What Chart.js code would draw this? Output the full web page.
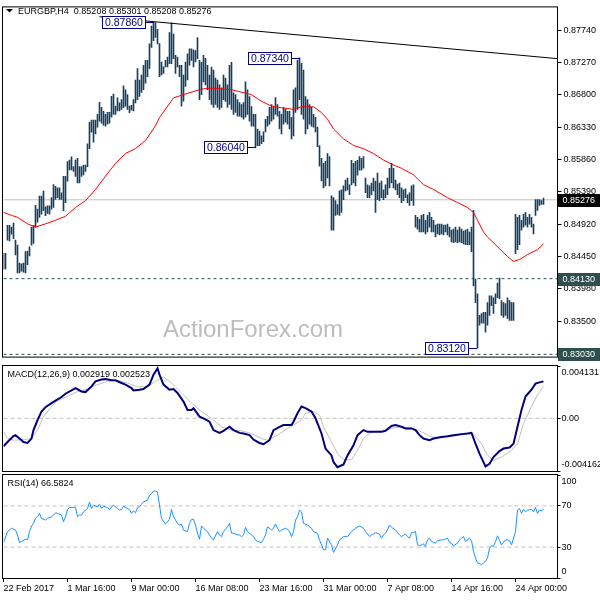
<!DOCTYPE html>
<html lang="en">
<head>
<meta charset="UTF-8">
<title>EURGBP,H4</title>
<script src="https://cdn.jsdelivr.net/npm/chart.js"></script>
<style>
  body { margin: 0; background: #fff; }
  #wrap { position: relative; width: 600px; height: 600px; }
  #wrap canvas { position: absolute; left: 0; }
</style>
</head>
<body>
<div id="wrap">
  <canvas id="priceChart" width="600" height="364" style="top:0"></canvas>
  <canvas id="macdChart" width="600" height="109" style="top:364px"></canvas>
  <canvas id="rsiChart" width="600" height="127" style="top:473px"></canvas>
</div>
<script>
// bar index: 0 = 22 Feb 2017 08:00, one bar every 4 hours
const tickIdx = [0, 32, 64, 96, 128, 160, 192, 224, 256];
const tickLabels = ['22 Feb 2017', '1 Mar 16:00', '9 Mar 00:00', '16 Mar 08:00', '23 Mar 16:00',
                    '31 Mar 00:00', '7 Apr 08:00', '14 Apr 16:00', '24 Apr 00:00'];
const priceTicks = [0.87740, 0.87270, 0.86800, 0.86330, 0.85860, 0.85390, 0.84920, 0.84450, 0.83980, 0.83500];

// H4 bars: high / low
const barHigh = [
  0.84498, 0.84498, 0.84903, 0.84903, 0.84879, 0.84936, 0.84689, 0.84618, 0.84356, 0.84347,
  0.84356, 0.84522, 0.84532, 0.84594, 0.84879, 0.84903, 0.85197, 0.85140, 0.85331, 0.85331,
  0.85402, 0.85174, 0.85188, 0.85188, 0.85307, 0.85496, 0.85473, 0.85449, 0.85449, 0.85378,
  0.85616, 0.85616, 0.85830, 0.85853, 0.85901, 0.85758, 0.85853, 0.85877, 0.85758, 0.85758,
  0.85781, 0.85781, 0.86091, 0.86400, 0.86433, 0.86433, 0.86433, 0.86518, 0.86694, 0.86618,
  0.86561, 0.86518, 0.86547, 0.86547, 0.86779, 0.86814, 0.86637, 0.86757, 0.86685, 0.86732,
  0.86932, 0.86875, 0.86804, 0.86637, 0.86647, 0.86732, 0.87017, 0.87184, 0.87017, 0.87089,
  0.87231, 0.87303, 0.87303, 0.87541, 0.87802, 0.87860, 0.87849, 0.87755, 0.87545, 0.87278,
  0.87207, 0.87303, 0.87350, 0.87706, 0.87849, 0.87683, 0.87374, 0.87350, 0.87231, 0.87231,
  0.87089, 0.87278, 0.87398, 0.87469, 0.87469, 0.87455, 0.87445, 0.87635, 0.87303, 0.87274,
  0.87374, 0.87331, 0.87231, 0.87089, 0.87203, 0.87160, 0.87046, 0.87017, 0.86946, 0.86903,
  0.87089, 0.87046, 0.86946, 0.87231, 0.87274, 0.86832, 0.86804, 0.86732, 0.86690, 0.86661,
  0.86690, 0.86989, 0.86875, 0.86775, 0.86632, 0.86518, 0.86518, 0.86305, 0.86276, 0.86205,
  0.86262, 0.86447, 0.86490, 0.86618, 0.86661, 0.86618, 0.86761, 0.86661, 0.86561, 0.86518,
  0.86618, 0.86590, 0.86561, 0.86561, 0.86476, 0.86875, 0.86903, 0.87303, 0.87340, 0.87260,
  0.87160, 0.86775, 0.86732, 0.86661, 0.86618, 0.86518, 0.86476, 0.86333, 0.86062, 0.85877,
  0.85806, 0.85834, 0.85948, 0.85905, 0.85335, 0.85307, 0.85264, 0.85207, 0.85406, 0.85421,
  0.85478, 0.85563, 0.85592, 0.85492, 0.85848, 0.85806, 0.85834, 0.85848, 0.85905, 0.85877,
  0.85905, 0.85592, 0.85492, 0.85478, 0.85520, 0.85592, 0.85549, 0.85663, 0.85520, 0.85549,
  0.85421, 0.85492, 0.85592, 0.85734, 0.85806, 0.85734, 0.85563, 0.85506, 0.85520, 0.85449,
  0.85421, 0.85435, 0.85349, 0.85378, 0.85478, 0.85492, 0.85050, 0.85021, 0.84993, 0.85050,
  0.85064, 0.84979, 0.85050, 0.85093, 0.85021, 0.84979, 0.84907, 0.84922, 0.84922, 0.84922,
  0.84907, 0.84907, 0.84922, 0.84879, 0.84836, 0.84850, 0.84879, 0.84836, 0.84879, 0.84850,
  0.84822, 0.84836, 0.84850, 0.84808, 0.84879, 0.85121, 0.84123, 0.83909, 0.83596, 0.83624,
  0.83639, 0.83639, 0.83781, 0.83881, 0.83881, 0.83852, 0.83909, 0.84066, 0.84138, 0.83810,
  0.83781, 0.83767, 0.83852, 0.83810, 0.83781, 0.83781, 0.85064, 0.85021, 0.85050, 0.84979,
  0.85064, 0.85093, 0.85021, 0.85064, 0.85021, 0.84922, 0.85278, 0.85278, 0.85278, 0.85264,
  0.85301];
const barLow = [
  0.84266, 0.84270, 0.84689, 0.84679, 0.84775, 0.84712, 0.84475, 0.84213, 0.84213, 0.84237,
  0.84223, 0.84213, 0.84333, 0.84460, 0.84618, 0.84641, 0.84879, 0.84950, 0.85021, 0.85068,
  0.85117, 0.85046, 0.85078, 0.85068, 0.85140, 0.85164, 0.85282, 0.85307, 0.85282, 0.85282,
  0.85117, 0.85235, 0.85545, 0.85710, 0.85710, 0.85687, 0.85616, 0.85520, 0.85520, 0.85616,
  0.85639, 0.85687, 0.85758, 0.86020, 0.86258, 0.86115, 0.86233, 0.86333, 0.86419, 0.86390,
  0.86362, 0.86347, 0.86376, 0.86390, 0.86476, 0.86518, 0.86518, 0.86566, 0.86566, 0.86590,
  0.86614, 0.86637, 0.86590, 0.86543, 0.86580, 0.86566, 0.86685, 0.86732, 0.86779, 0.86836,
  0.86875, 0.86970, 0.87064, 0.87184, 0.87492, 0.87588, 0.87635, 0.87541, 0.87064, 0.87089,
  0.87113, 0.87207, 0.87207, 0.87256, 0.87256, 0.87327, 0.87113, 0.87207, 0.87064, 0.86637,
  0.86708, 0.86922, 0.87017, 0.87231, 0.87303, 0.87207, 0.87278, 0.87327, 0.86732, 0.86804,
  0.86989, 0.86946, 0.86875, 0.86732, 0.86661, 0.86618, 0.86661, 0.86618, 0.86590, 0.86618,
  0.86732, 0.86704, 0.86618, 0.86661, 0.86590, 0.86518, 0.86547, 0.86490, 0.86490, 0.86476,
  0.86447, 0.86476, 0.86518, 0.86419, 0.86347, 0.86347, 0.86040, 0.86062, 0.86062, 0.86091,
  0.86119, 0.86262, 0.86347, 0.86376, 0.86419, 0.86447, 0.86518, 0.86490, 0.86305, 0.86233,
  0.86376, 0.86404, 0.86376, 0.86305, 0.86162, 0.86205, 0.86547, 0.86590, 0.86732, 0.86518,
  0.86447, 0.86233, 0.86305, 0.86376, 0.86347, 0.86333, 0.86262, 0.86048, 0.85763, 0.85549,
  0.85449, 0.85478, 0.85592, 0.85478, 0.84836, 0.84836, 0.85050, 0.85064, 0.85050, 0.85093,
  0.85278, 0.85406, 0.85421, 0.85349, 0.85492, 0.85520, 0.85478, 0.85634, 0.85706, 0.85706,
  0.85734, 0.85378, 0.85307, 0.85307, 0.85349, 0.85406, 0.85093, 0.85278, 0.85264, 0.85307,
  0.85278, 0.85307, 0.85349, 0.85449, 0.85520, 0.85449, 0.85421, 0.85349, 0.85307, 0.85235,
  0.85264, 0.85307, 0.85235, 0.85193, 0.85264, 0.85193, 0.84879, 0.84850, 0.84808, 0.84808,
  0.84808, 0.84779, 0.84808, 0.84879, 0.84808, 0.84808, 0.84736, 0.84779, 0.84765, 0.84779,
  0.84765, 0.84808, 0.84765, 0.84736, 0.84665, 0.84651, 0.84665, 0.84651, 0.84665, 0.84651,
  0.84636, 0.84622, 0.84622, 0.84622, 0.84522, 0.84023, 0.83781, 0.83120, 0.83453, 0.83482,
  0.83482, 0.83353, 0.83453, 0.83596, 0.83738, 0.83624, 0.83767, 0.83852, 0.83838, 0.83596,
  0.83567, 0.83596, 0.83553, 0.83524, 0.83524, 0.83524, 0.84494, 0.84551, 0.84622, 0.84836,
  0.84879, 0.84907, 0.84879, 0.84922, 0.84879, 0.84779, 0.85050, 0.85121, 0.85193, 0.85207,
  0.85208];

// moving average (red)
const maIdx = [0, 4, 7, 12, 16, 21, 26, 31, 36, 41, 46, 51, 56, 61, 66, 71, 76, 78, 85, 90, 99, 104, 114, 124,
               129, 134, 139, 145, 149, 155, 159, 162, 165, 170, 175, 180, 185, 190, 195, 199, 205, 210, 215,
               222, 227, 232, 235, 237, 240, 242, 247, 252, 255, 258, 262, 267, 270];
const maVal = [0.85093, 0.85050, 0.85021, 0.84926, 0.84880, 0.84926, 0.84979, 0.85036, 0.85164, 0.85264,
               0.85425, 0.85620, 0.85806, 0.85948, 0.86020, 0.86138, 0.86352, 0.86471, 0.86757, 0.86804,
               0.86885, 0.86899, 0.86875, 0.86804, 0.86708, 0.86637, 0.86614, 0.86590, 0.86628, 0.86628,
               0.86543, 0.86447, 0.86305, 0.86162, 0.86066, 0.86019, 0.85948, 0.85853, 0.85781, 0.85734,
               0.85639, 0.85496, 0.85425, 0.85307, 0.85235, 0.85164, 0.85093, 0.84979, 0.84808, 0.84736,
               0.84594, 0.84451, 0.84380, 0.84408, 0.84480, 0.84551, 0.84636];

const lastPrice = 0.85276;
const levelLines = [0.84130, 0.83030];
const trendIdx = [48, 277];
const trendVal = [0.87937, 0.87327];
const peakIdx = [75, 148, 126, 237];
const peakVal = [0.87860, 0.87340, 0.86040, 0.83120];

// MACD(12,26,9)
const macdIdx = [0, 2, 5, 6, 8, 10, 12, 14, 15, 17, 19, 21, 24, 26, 29, 31, 34, 36, 39, 41, 44, 46, 49, 51, 54,
                 56, 59, 61, 64, 65, 68, 70, 73, 75, 77, 78, 80, 83, 85, 87, 90, 92, 94, 95, 98, 100, 103, 105,
                 108, 110, 113, 115, 118, 120, 123, 125, 128, 130, 133, 135, 138, 140, 144, 145, 147, 149, 151,
                 154, 156, 159, 161, 164, 165, 167, 170, 172, 175, 177, 180, 182, 185, 189, 191, 194, 196, 199,
                 201, 204, 206, 208, 210, 213, 215, 219, 222, 225, 229, 232, 234, 236, 238, 240, 241, 243, 245,
                 248, 250, 253, 255, 257, 259, 261, 264, 266, 268, 270];
const macdVal = [-0.00221, -0.00187, -0.00141, -0.00133, -0.00160, -0.00187, -0.00195, -0.00160, -0.00093, -0.00014,
                 0.00053, 0.00088, 0.00120, 0.00140, 0.00168, 0.00194, 0.00220, 0.00239, 0.00212, 0.00207,
                 0.00252, 0.00292, 0.00306, 0.00311, 0.00300, 0.00300, 0.00279, 0.00266, 0.00239, 0.00220,
                 0.00226, 0.00231, 0.00266, 0.00345, 0.00395, 0.00345, 0.00266, 0.00226, 0.00231, 0.00200,
                 0.00132, 0.00066, 0.00066, 0.00080, 0.00013, 0.00000, -0.00027, -0.00093, -0.00115, -0.00099,
                 -0.00067, -0.00093, -0.00115, -0.00120, -0.00133, -0.00168, -0.00195, -0.00205, -0.00173, -0.00093,
                 -0.00067, -0.00053, -0.00053, -0.00027, 0.00040, 0.00093, 0.00080, 0.00053, 0.00000, -0.00120,
                 -0.00239, -0.00293, -0.00346, -0.00386, -0.00365, -0.00293, -0.00213, -0.00133, -0.00093, -0.00107,
                 -0.00107, -0.00107, -0.00099, -0.00061, -0.00053, -0.00067, -0.00080, -0.00080, -0.00093, -0.00133,
                 -0.00160, -0.00173, -0.00160, -0.00147, -0.00141, -0.00133, -0.00125, -0.00120, -0.00115, -0.00200,
                 -0.00279, -0.00346, -0.00380, -0.00359, -0.00306, -0.00259, -0.00239, -0.00231, -0.00200, -0.00067,
                 0.00066, 0.00172, 0.00226, 0.00274, 0.00284, 0.002919];
const sigIdx = [0, 2, 5, 10, 14, 17, 20, 24, 27, 32, 37, 42, 47, 52, 57, 62, 67, 72, 76, 80, 84, 89, 94, 99, 104,
                109, 114, 119, 124, 129, 132, 137, 142, 145, 149, 151, 155, 158, 160, 164, 167, 170, 174, 177,
                180, 184, 189, 194, 199, 204, 209, 214, 219, 225, 232, 235, 239, 242, 245, 249, 254, 257, 260,
                264, 267, 270];
const sigVal = [-0.00107, -0.00160, -0.00173, -0.00168, -0.00160, -0.00093, 0.00013, 0.00093, 0.00140, 0.00172,
                0.00212, 0.00231, 0.00266, 0.00292, 0.00298, 0.00279, 0.00247, 0.00252, 0.00292, 0.00327,
                0.00279, 0.00200, 0.00120, 0.00053, 0.00000, -0.00067, -0.00093, -0.00099, -0.00120, -0.00160,
                -0.00173, -0.00133, -0.00080, -0.00053, -0.00014, 0.00040, 0.00053, 0.00026, -0.00067, -0.00187,
                -0.00279, -0.00327, -0.00327, -0.00253, -0.00160, -0.00107, -0.00099, -0.00080, -0.00067, -0.00077,
                -0.00107, -0.00147, -0.00152, -0.00141, -0.00125, -0.00125, -0.00200, -0.00293, -0.00333, -0.00306,
                -0.00253, -0.00200, -0.00040, 0.00093, 0.00186, 0.002523];
const macdTicks = [0.004131, 0, -0.004162];
const macdTickLabels = ['0.004131', '0.00', '-0.004162'];

// RSI(14)
const rsiIdx = [0, 2, 4, 6, 7, 8, 9, 11, 12, 13, 14, 15, 16, 17, 18, 19, 21, 22, 24, 25, 26, 27, 29, 30, 31, 32,
                33, 35, 36, 37, 38, 39, 40, 42, 43, 44, 45, 47, 48, 49, 50, 52, 53, 54, 55, 57, 58, 59, 60, 62,
                63, 64, 65, 66, 67, 68, 69, 70, 72, 73, 74, 75, 76, 77, 78, 79, 81, 82, 83, 84, 85, 87, 88, 89,
                90, 92, 93, 94, 95, 96, 97, 98, 99, 100, 102, 103, 104, 105, 107, 108, 109, 110, 111, 112, 113,
                114, 115, 117, 118, 119, 120, 121, 122, 124, 125, 126, 127, 129, 130, 131, 132, 134, 135, 136,
                137, 138, 139, 141, 142, 143, 144, 145, 146, 147, 148, 149, 150, 152, 154, 155, 157, 158, 160,
                161, 162, 164, 165, 167, 168, 170, 172, 174, 176, 178, 180, 181, 183, 184, 186, 188, 189, 190,
                191, 192, 193, 194, 196, 198, 199, 201, 202, 203, 204, 206, 207, 208, 209, 210, 211, 212, 213,
                214, 216, 217, 219, 220, 222, 223, 224, 225, 227, 228, 229, 230, 231, 232, 233, 234, 235, 236,
                237, 239, 240, 241, 242, 243, 244, 245, 246, 247, 248, 249, 251, 252, 253, 254, 256, 257, 258,
                259, 260, 261, 262, 264, 265, 266, 267, 268, 269, 270];
const rsiVal = [34.4, 45.0, 48.3, 46.6, 41.8, 34.4, 35.4, 37.7, 37.0, 45.0, 50.5, 53.1, 57.9, 59.4, 62.7, 57.9,
                56.3, 57.9, 59.4, 61.1, 63.3, 62.7, 61.1, 54.6, 59.4, 66.5, 68.5, 68.5, 68.5, 59.4, 61.1, 61.1,
                64.2, 67.5, 73.8, 67.5, 70.7, 69.0, 71.6, 67.5, 69.7, 68.5, 66.5, 69.0, 70.7, 67.5, 65.9, 66.5,
                69.7, 67.5, 66.5, 62.7, 65.2, 63.3, 68.5, 69.0, 71.6, 73.8, 75.5, 80.3, 81.9, 84.4, 84.4, 83.5,
                70.7, 57.9, 52.4, 54.6, 56.9, 66.5, 59.4, 53.1, 51.4, 52.4, 46.6, 45.0, 53.1, 56.9, 56.9, 51.4,
                43.5, 37.7, 50.5, 48.3, 45.0, 41.8, 38.7, 37.0, 45.0, 41.8, 40.2, 45.0, 47.3, 49.8, 53.1, 43.5,
                43.5, 41.8, 41.8, 40.2, 41.8, 49.2, 45.0, 41.8, 40.2, 37.0, 35.4, 34.4, 37.7, 41.8, 49.8, 46.6,
                48.3, 52.4, 48.3, 45.0, 46.6, 48.3, 47.3, 45.0, 40.2, 45.0, 56.3, 59.4, 65.9, 64.2, 53.1, 51.4,
                48.3, 45.0, 43.5, 37.0, 27.4, 27.4, 38.7, 32.2, 24.8, 32.2, 37.0, 40.2, 40.2, 45.0, 48.3, 50.5,
                48.3, 45.0, 40.2, 41.8, 44.0, 42.7, 38.7, 41.8, 43.5, 46.6, 51.4, 49.2, 46.6, 41.8, 40.2, 42.7,
                40.2, 38.7, 44.0, 45.0, 32.2, 31.3, 32.2, 33.2, 30.6, 37.0, 38.7, 35.4, 33.8, 36.3, 37.0, 37.0,
                38.7, 34.4, 33.8, 31.3, 33.8, 37.0, 38.7, 40.2, 35.4, 37.0, 38.7, 36.3, 25.8, 19.4, 14.6, 13.0,
                14.6, 16.2, 19.4, 29.0, 31.3, 30.6, 35.4, 40.9, 37.0, 32.2, 37.0, 37.0, 36.3, 32.2, 45.0, 65.9,
                67.5, 62.7, 66.5, 64.2, 65.9, 66.5, 64.2, 68.5, 62.7, 65.9, 65.2, 66.58];
const rsiTicks = [100, 70, 30, 0];
const rsiLevels = [70, 30];

// ---- common setup ----
Chart.defaults.font.family = '"Liberation Sans", Arial, sans-serif';
Chart.defaults.font.size = 9;
Chart.defaults.color = '#000';

const FONT = '"Liberation Sans", Arial, sans-serif';
const AXIS_W = 42.5;

function pts(idx, vals) {
  return idx.map((v, k) => ({ x: v, y: vals[k] }));
}
function hline(v) {
  return [{ x: 0, y: v }, { x: 277, y: v }];
}

function xAxis(show) {
  return {
    type: 'linear', min: 0, max: 277, display: show, offset: false,
    grid: { drawOnChartArea: false, offset: false, tickLength: 4, color: '#000' },
    border: { display: false },
    afterBuildTicks: s => { s.ticks = tickIdx.map(v => ({ value: v })); },
    afterFit: s => { s.height = show ? 22 : 0; },
    ticks: {
      autoSkip: false, maxRotation: 0, align: 'start', padding: 1,
      callback: v => tickLabels[tickIdx.indexOf(v)]
    }
  };
}

// panel frame
const frame = {
  id: 'frame',
  afterDraw(chart) {
    const { ctx, chartArea: a } = chart;
    ctx.save();
    ctx.strokeStyle = '#000';
    ctx.lineWidth = 1;
    ctx.strokeRect(a.left - 1, a.top - 0.5, a.right - a.left + 1, a.bottom - a.top + 1);
    ctx.restore();
  }
};

// side labels kept inside the pane (MetaTrader style)
function sideLabels(ticks, texts) {
  return {
    id: 'sideLabels',
    afterDraw(chart) {
      const { ctx, chartArea: a } = chart;
      const y = chart.scales.y;
      ctx.save();
      ctx.font = '9px ' + FONT;
      ctx.fillStyle = '#000';
      ctx.textBaseline = 'middle';
      ticks.forEach((v, k) => {
        let py = y.getPixelForValue(v);
        py = Math.min(Math.max(py, a.top + 7), a.bottom - 6);
        ctx.fillText(texts[k], a.right + 4, py);
      });
      ctx.restore();
    }
  };
}

function paneLabel(text) {
  return {
    id: 'paneLabel',
    afterDraw(chart) {
      const { ctx, chartArea: a } = chart;
      ctx.save();
      ctx.font = '9px ' + FONT;
      ctx.fillStyle = '#000';
      ctx.textBaseline = 'middle';
      ctx.fillText(text, a.left + 4, a.top + 9);
      ctx.restore();
    }
  };
}

// ---- price pane ----
const priceDecor = {
  id: 'priceDecor',
  beforeDatasetsDraw(chart) {
    const { ctx } = chart;
    ctx.save();
    ctx.font = '24px ' + FONT;
    ctx.fillStyle = '#bdbdbd';
    ctx.textAlign = 'center';
    ctx.fillText('ActionForex.com', 253, 337);
    ctx.restore();
  },
  afterDatasetsDraw(chart) {
    const { ctx } = chart;
    const xs = chart.scales.x, ys = chart.scales.y;
    ctx.save();
    ctx.font = '10.5px ' + FONT;
    ctx.textBaseline = 'middle';
    ctx.lineWidth = 1;
    peakIdx.forEach((idx, k) => {
      const px = Math.round(xs.getPixelForValue(idx));
      const py = Math.round(ys.getPixelForValue(peakVal[k])) + 0.5;
      const txt = peakVal[k].toFixed(5);
      const w = Math.ceil(ctx.measureText(txt).width) + 5;
      const right = px - 9;
      ctx.strokeStyle = '#000080';
      ctx.beginPath();
      ctx.moveTo(right, py);
      ctx.lineTo(px, py);
      ctx.stroke();
      ctx.fillStyle = '#fff';
      ctx.fillRect(right - w, py - 6.5, w, 12);
      ctx.strokeRect(right - w + 0.5, py - 6, w, 12);
      ctx.fillStyle = '#000080';
      ctx.fillText(txt, right - w + 3, py + 0.5);
    });
    ctx.restore();
  },
  afterDraw(chart) {
    const { ctx, chartArea: a } = chart;
    const ys = chart.scales.y;
    ctx.save();
    ctx.font = '9px ' + FONT;
    ctx.textBaseline = 'middle';
    const boxes = [[lastPrice, '#000000']].concat(levelLines.map(v => [v, '#2f4f4f']));
    boxes.forEach(([v, col]) => {
      const py = Math.round(ys.getPixelForValue(v));
      ctx.fillStyle = col;
      ctx.fillRect(a.right + 0.5, py - 6, 600 - a.right, 13);
      ctx.fillStyle = '#fff';
      ctx.fillText(v.toFixed(5), a.right + 5, py + 0.5);
    });
    // title
    ctx.fillStyle = '#000';
    ctx.beginPath();
    ctx.moveTo(6, 9); ctx.lineTo(13, 9); ctx.lineTo(9.5, 12.5); ctx.closePath();
    ctx.fill();
    ctx.textBaseline = 'alphabetic';
    ctx.fillText('EURGBP,H4  0.85208 0.85301 0.85208 0.85276', 18, 14);
    ctx.restore();
  }
};

new Chart(document.getElementById('priceChart'), {
  data: {
    datasets: [
      { type: 'line', data: hline(lastPrice), borderColor: '#c0c0c0', borderWidth: 1, pointRadius: 0, order: 5 },
      { type: 'line', data: hline(levelLines[0]), borderColor: '#2f4f4f', borderWidth: 1, borderDash: [3, 3], pointRadius: 0, order: 5 },
      { type: 'line', data: hline(levelLines[1]), borderColor: '#2f4f4f', borderWidth: 1, borderDash: [3, 3], pointRadius: 0, order: 5 },
      { type: 'bar', data: barHigh.map((h, i) => ({ x: i, y: [barLow[i], h] })),
        backgroundColor: '#174060', barThickness: 1, borderWidth: 0, order: 3 },
      { type: 'line', data: pts(maIdx, maVal), borderColor: '#ff0000', borderWidth: 1, pointRadius: 0, order: 2 },
      { type: 'line', data: pts(trendIdx, trendVal), borderColor: '#000', borderWidth: 1, pointRadius: 0, order: 1 }
    ]
  },
  options: {
    responsive: false, animation: false, events: [],
    layout: { padding: { left: 3.5, top: 6, bottom: 2, right: 0 } },
    plugins: { legend: { display: false }, tooltip: { enabled: false } },
    scales: {
      x: xAxis(false),
      y: {
        position: 'right', min: 0.82997, max: 0.88072,
        afterBuildTicks: s => { s.ticks = priceTicks.map(v => ({ value: v })); },
        afterFit: s => { s.width = AXIS_W; },
        grid: { drawOnChartArea: false, tickLength: 4, color: '#000' },
        border: { display: false },
        ticks: { padding: 2, callback: v => v.toFixed(5) }
      }
    }
  },
  plugins: [frame, priceDecor]
});

// ---- MACD pane ----
new Chart(document.getElementById('macdChart'), {
  data: {
    datasets: [
      { type: 'line', data: hline(0), borderColor: '#c0c0c0', borderWidth: 1, borderDash: [4, 3], pointRadius: 0, order: 3 },
      { type: 'line', data: pts(sigIdx, sigVal), borderColor: '#c0c0c0', borderWidth: 1, pointRadius: 0, order: 2 },
      { type: 'line', data: pts(macdIdx, macdVal), borderColor: '#000080', borderWidth: 2, pointRadius: 0, order: 1 }
    ]
  },
  options: {
    responsive: false, animation: false, events: [],
    layout: { padding: { left: 3.5, top: 2, bottom: 2, right: 0 } },
    plugins: { legend: { display: false }, tooltip: { enabled: false } },
    scales: {
      x: xAxis(false),
      y: {
        position: 'right', min: -0.004162, max: 0.004131,
        afterBuildTicks: s => { s.ticks = macdTicks.map(v => ({ value: v })); },
        afterFit: s => { s.width = AXIS_W; },
        grid: { drawOnChartArea: false, tickLength: 3, color: '#000' },
        border: { display: false },
        ticks: { display: false }
      }
    }
  },
  plugins: [frame, sideLabels(macdTicks, macdTickLabels), paneLabel('MACD(12,26,9) 0.002919 0.002523')]
});

// ---- RSI pane ----
new Chart(document.getElementById('rsiChart'), {
  data: {
    datasets: [
      { type: 'line', data: hline(rsiLevels[0]), borderColor: '#c0c0c0', borderWidth: 1, borderDash: [4, 3], pointRadius: 0, order: 3 },
      { type: 'line', data: hline(rsiLevels[1]), borderColor: '#c0c0c0', borderWidth: 1, borderDash: [4, 3], pointRadius: 0, order: 3 },
      { type: 'line', data: pts(rsiIdx, rsiVal), borderColor: '#1e90ff', borderWidth: 1, pointRadius: 0, order: 1 }
    ]
  },
  options: {
    responsive: false, animation: false, events: [],
    layout: { padding: { left: 3.5, top: 2, bottom: 0, right: 0 } },
    plugins: { legend: { display: false }, tooltip: { enabled: false } },
    scales: {
      x: xAxis(true),
      y: {
        position: 'right', min: 0, max: 100,
        afterBuildTicks: s => { s.ticks = rsiTicks.map(v => ({ value: v })); },
        afterFit: s => { s.width = AXIS_W; },
        grid: { drawOnChartArea: false, tickLength: 3, color: '#000' },
        border: { display: false },
        ticks: { display: false }
      }
    }
  },
  plugins: [frame, sideLabels(rsiTicks, rsiTicks.map(String)), paneLabel('RSI(14) 66.5824')]
});
</script>
</body>
</html>
